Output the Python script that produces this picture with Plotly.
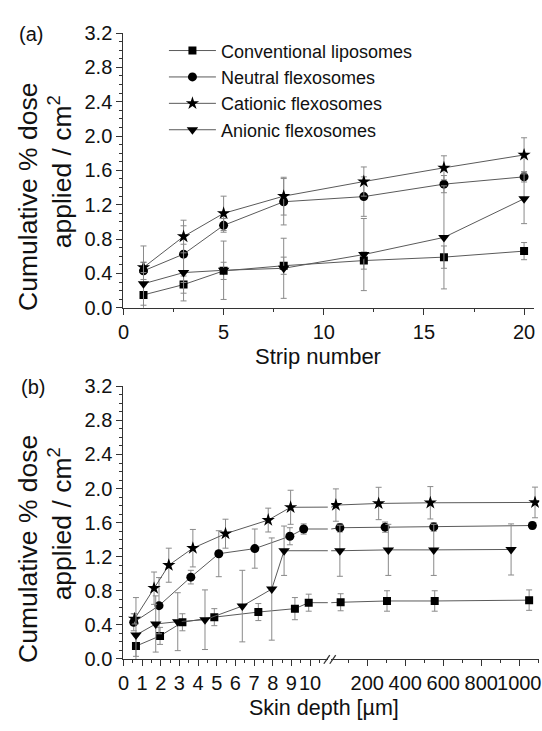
import plotly.graph_objects as go

W, H = 542, 731

# ---------------- data ----------------
strips = [1, 3, 5, 8, 12, 16, 20]

conv_a = [0.15, 0.27, 0.43, 0.49, 0.55, 0.59, 0.66]
conv_a_err = [0.12, 0.10, 0.10, 0.10, 0.10, 0.13, 0.10]
neut_a = [0.43, 0.625, 0.96, 1.235, 1.295, 1.44, 1.525]
neut_a_err = [0.10, 0.33, 0.08, 0.27, 0.23, 0.10, 0.06]
cat_a = [0.47, 0.83, 1.10, 1.30, 1.47, 1.63, 1.78]
cat_a_err = [0.06, 0.19, 0.20, 0.22, 0.17, 0.14, 0.20]
an_a = [0.28, 0.41, 0.437, 0.46, 0.62, 0.82, 1.27]
an_a_err = [0.44, 0.33, 0.34, 0.35, 0.42, 0.60, 0.29]

conv_b_x = [0.67, 1.96, 3.16, 4.87, 7.23, 9.19, 9.93, 60, 304, 555, 1052]
conv_b = [0.15, 0.27, 0.43, 0.49, 0.55, 0.59, 0.66, 0.665, 0.68, 0.68, 0.69]
conv_b_err = [0.12, 0.10, 0.10, 0.10, 0.10, 0.13, 0.10, 0.10, 0.12, 0.12, 0.12]

neut_b_x = [0.55, 1.905, 3.61, 5.11, 7.04, 8.92, 9.66, 56, 294, 550, 1069]
neut_b = [0.43, 0.625, 0.96, 1.235, 1.295, 1.44, 1.525, 1.54, 1.547, 1.55, 1.566]
neut_b_err = [0.10, 0.33, 0.08, 0.27, 0.23, 0.10, 0.06, 0.05, 0.06, 0.05, 0.04]

cat_b_x = [0.6, 1.64, 2.43, 3.72, 5.47, 7.76, 8.96, 35, 260, 532, 1083]
cat_b = [0.47, 0.83, 1.10, 1.30, 1.47, 1.63, 1.78, 1.806, 1.825, 1.833, 1.837]
cat_b_err = [0.06, 0.19, 0.20, 0.22, 0.17, 0.14, 0.20, 0.19, 0.19, 0.19, 0.18]

an_b_x = [0.67, 1.73, 2.91, 4.37, 6.37, 7.95, 8.61, 56, 311, 550, 957]
an_b = [0.28, 0.41, 0.437, 0.46, 0.62, 0.82, 1.27, 1.27, 1.28, 1.28, 1.285]
an_b_err = [0.44, 0.33, 0.34, 0.35, 0.42, 0.60, 0.29, 0.30, 0.30, 0.30, 0.30]

names = ["Conventional liposomes", "Neutral flexosomes", "Cationic flexosomes", "Anionic flexosomes"]
y_ticks = [0.0, 0.4, 0.8, 1.2, 1.6, 2.0, 2.4, 2.8, 3.2]
a_xticks = [0, 5, 10, 15, 20]
b1_xticks = [0, 1, 2, 3, 4, 5, 6, 7, 8, 9, 10]
b2_xticks = [200, 400, 600, 800, 1000]
b2_minor = [100, 300, 500, 700, 900, 1100]

# ---------------- styles ----------------
FONT = "Liberation Sans, Arial, sans-serif"
LINE_C = "#5a5a5a"
ERR_C = "#8a8a8a"
symbols = ["square", "circle", "star", "triangle-down"]
msizes = [8, 9, 10, 10]

def px_x(p):
    return p / W

def px_y(p):
    return 1 - p / H

fig = go.Figure()

series_a = [(conv_a, conv_a_err), (neut_a, neut_a_err), (cat_a, cat_a_err), (an_a, an_a_err)]
for i, (y, e) in enumerate(series_a):
    fig.add_trace(go.Scatter(
        x=strips, y=y, name=names[i], mode="lines+markers",
        line=dict(color=LINE_C, width=1),
        marker=dict(symbol=symbols[i], size=msizes[i], color="black"),
        error_y=dict(type="data", array=e, color=ERR_C, thickness=1, width=3),
        xaxis="x", yaxis="y", showlegend=True,
    ))

series_b = [(conv_b_x, conv_b, conv_b_err), (neut_b_x, neut_b, neut_b_err),
            (cat_b_x, cat_b, cat_b_err), (an_b_x, an_b, an_b_err)]
for i, (x, y, e) in enumerate(series_b):
    # left segment of the broken axis (deep points fall off to the right and are clipped)
    fig.add_trace(go.Scatter(
        x=x, y=y, mode="lines+markers",
        line=dict(color=LINE_C, width=1),
        marker=dict(symbol=symbols[i], size=msizes[i], color="black"),
        error_y=dict(type="data", array=e, color=ERR_C, thickness=1, width=3),
        xaxis="x2", yaxis="y2", showlegend=False,
    ))
    # connector across the break, on the right segment
    fig.add_trace(go.Scatter(
        x=x[6:8], y=y[6:8], mode="lines",
        line=dict(color=LINE_C, width=1),
        xaxis="x3", yaxis="y2", showlegend=False, hoverinfo="skip",
    ))
    # right segment of the broken axis
    fig.add_trace(go.Scatter(
        x=x[7:], y=y[7:], mode="lines+markers",
        line=dict(color=LINE_C, width=1),
        marker=dict(symbol=symbols[i], size=msizes[i], color="black"),
        error_y=dict(type="data", array=e[7:], color=ERR_C, thickness=1, width=3),
        xaxis="x3", yaxis="y2", showlegend=False,
    ))

axis_common = dict(
    showline=True, linecolor="#333", linewidth=1.3, showgrid=False, zeroline=False,
    ticks="outside", ticklen=6, tickwidth=1.2, tickcolor="#333", tickangle=0,
    tickfont=dict(family=FONT, size=20, color="#111"),
)
minor_common = dict(ticks="outside", ticklen=3, tickcolor="#333", tickwidth=1)

x0a, x1a = 119, 535
ya_top, ya_bot = 22.7, 306
yb_top, yb_bot = 387, 668
b1_end = 326
b2_start, b2_end = 329.4, 540.2

fig.update_layout(
    width=W, height=H, margin=dict(l=0, r=0, t=0, b=0),
    paper_bgcolor="white", plot_bgcolor="white",
    xaxis=dict(domain=[px_x(x0a), px_x(x1a)], range=[0, 20.5], tickvals=a_xticks,
               minor=dict(dtick=2.5, tick0=0, **minor_common),
               anchor="y", **axis_common),
    yaxis=dict(domain=[px_y(ya_bot), px_y(ya_top)], range=[0, 3.2], tickvals=y_ticks, tickformat=".1f",
               minor=dict(dtick=0.1, tick0=0, **minor_common),
               anchor="x", **axis_common),
    xaxis2=dict(domain=[px_x(x0a), px_x(b1_end)], range=[0, (b1_end - x0a) / 18.9], tickvals=b1_xticks,
                minor=dict(dtick=0.5, tick0=0, **minor_common),
                anchor="y2", **axis_common),
    xaxis3=dict(domain=[px_x(b2_start), px_x(b2_end)], range=[10, 10 + (b2_end - b2_start) / 0.1925],
                tickvals=b2_xticks,
                minor=dict(tickvals=b2_minor, **minor_common),
                anchor="y2", **axis_common),
    yaxis2=dict(domain=[px_y(yb_bot), px_y(yb_top)], range=[0, 3.2], tickvals=y_ticks, tickformat=".1f",
                minor=dict(dtick=0.1, tick0=0, **minor_common),
                anchor="x2", **axis_common),
    legend=dict(x=px_x(160), y=px_y(22), xanchor="left", yanchor="top",
                font=dict(family=FONT, size=18, color="#111"),
                bgcolor="rgba(0,0,0,0)", itemwidth=47, tracegroupgap=0),
    showlegend=True,
)

ann = []
def add_text(t, x, y, size, angle=0):
    ann.append(dict(text=t, x=px_x(x), y=px_y(y), xref="paper", yref="paper",
                    showarrow=False, textangle=angle, xanchor="center", yanchor="middle",
                    font=dict(family=FONT, size=size, color="#111")))

add_text("(a)", 25, 24, 20)
add_text("(b)", 27, 388, 20)
add_text("Cumulative % dose", 23, 192, 26.5, -90)
add_text("applied / cm<sup>2</sup>", 55, 166, 26.5, -90)
add_text("Cumulative % dose", 23, 555, 26.5, -90)
add_text("applied / cm<sup>2</sup>", 55, 529, 26.5, -90)
add_text("Strip number", 316, 356, 22)
add_text("Skin depth [µm]", 322, 719, 21.5)
fig.update_layout(annotations=ann)

# axis break marks "//"
shapes = []
for dx in (0, 6):
    shapes.append(dict(type="line", xref="paper", yref="paper",
                       x0=px_x(322 + dx), y0=px_y(673), x1=px_x(328 + dx), y1=px_y(664),
                       line=dict(color="#333", width=1.3)))
fig.update_layout(shapes=shapes)

fig.write_html("out.html", config={"displayModeBar": False},
               post_script="document.body.style.margin='0';")
